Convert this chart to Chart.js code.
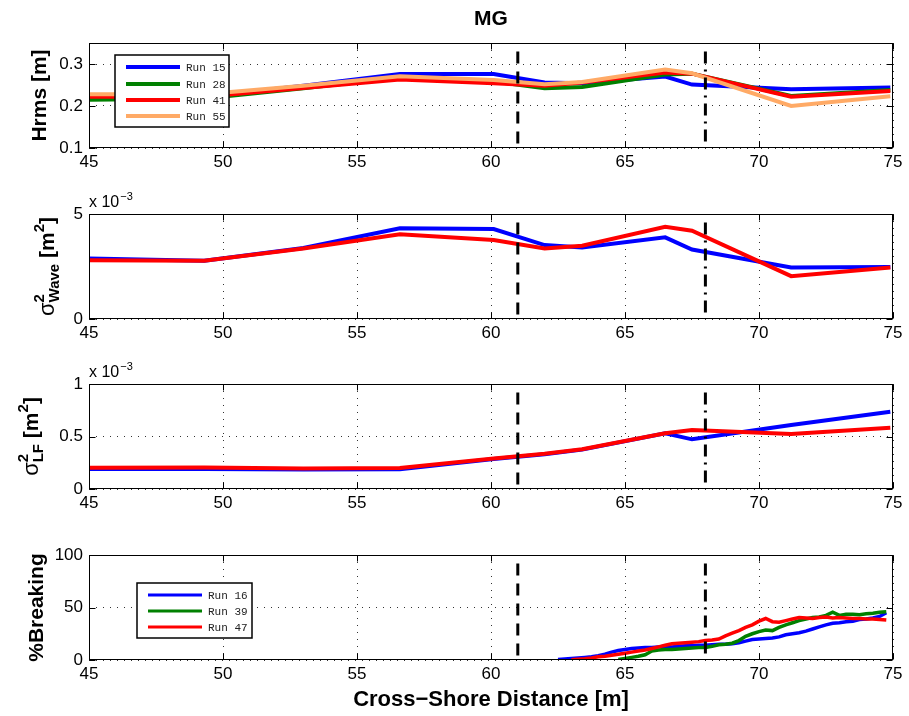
<!DOCTYPE html>
<html>
<head>
<meta charset="utf-8">
<title>MG</title>
<script src="https://cdn.jsdelivr.net/npm/chart.js@4.4.1/dist/chart.umd.min.js"></script>
<style>
  html, body { margin: 0; padding: 0; background: #fff; }
  #fig { position: relative; width: 909px; height: 716px; overflow: hidden; }
  #fig canvas { position: absolute; left: 0; }
</style>
</head>
<body>
<div id="fig">
  <canvas id="pHrms" width="909" height="178" style="top:0px"></canvas>
  <canvas id="pWave" width="909" height="165" style="top:184px"></canvas>
  <canvas id="pLF" width="909" height="165" style="top:354px"></canvas>
  <canvas id="pBrk" width="909" height="191" style="top:525px"></canvas>
</div>
<script>
var FONT = "'Liberation Sans', Arial, Helvetica, sans-serif";
var MONO = "'Liberation Mono', 'Courier New', monospace";

// shared x axis
var xTicks = [45, 50, 55, 60, 65, 70, 75];
var xTickLabels = ['45', '50', '55', '60', '65', '70', '75'];
var markX = [61, 68];           // dashed / dash-dot reference lines

// gauge positions along the flume (m)
var gaugeX = [45, 49.3, 53, 56.6, 60.1, 62, 63.4, 66.5, 67.5, 71.2, 74.9];

// Hrms (m)
var hrmsRun15 = [0.222, 0.222, 0.248, 0.276, 0.276, 0.256, 0.254, 0.270, 0.251, 0.240, 0.244];
var hrmsRun28 = [0.215, 0.218, 0.242, 0.268, 0.258, 0.242, 0.245, 0.275, 0.277, 0.224, 0.238];
var hrmsRun41 = [0.222, 0.222, 0.243, 0.263, 0.254, 0.248, 0.256, 0.280, 0.277, 0.222, 0.236];
var hrmsRun55 = [0.228, 0.228, 0.248, 0.271, 0.262, 0.252, 0.257, 0.287, 0.278, 0.200, 0.223];
var hrmsTicks = [0.1, 0.2, 0.3];
var hrmsTickLabels = ['0.1', '0.2', '0.3'];

// wave band variance (x 1e-3 m^2)
var waveRun15 = [2.88, 2.77, 3.38, 4.32, 4.28, 3.52, 3.41, 3.89, 3.31, 2.45, 2.48];
var waveRun41 = [2.80, 2.77, 3.36, 4.03, 3.76, 3.36, 3.49, 4.39, 4.20, 2.04, 2.45];
var waveTicks = [0, 5];
var waveTickLabels = ['0', '5'];

// low frequency variance (x 1e-3 m^2)
var lfRun15 = [0.190, 0.190, 0.186, 0.188, 0.286, 0.330, 0.375, 0.530, 0.473, 0.610, 0.736];
var lfRun41 = [0.203, 0.205, 0.195, 0.200, 0.290, 0.335, 0.378, 0.530, 0.562, 0.524, 0.584];
var lfTicks = [0, 0.5, 1];
var lfTickLabels = ['0', '0.5', '1'];

// percent of breaking waves
var brkX = [62.5, 62.75, 63, 63.25, 63.5, 63.75, 64, 64.25, 64.5, 64.75,
            65, 65.25, 65.5, 65.75, 66, 66.25, 66.5, 66.75, 67, 67.25,
            67.5, 67.75, 68, 68.25, 68.5, 68.75, 69, 69.25, 69.5, 69.75,
            70, 70.25, 70.5, 70.75, 71, 71.25, 71.5, 71.75, 72, 72.25,
            72.5, 72.75, 73, 73.25, 73.5, 73.75, 74, 74.25, 74.5, 74.75];
var brkRun16 = [0.5, 1, 1.5, 2, 2.5, 3, 4, 5.5, 7.5, 9,
                10, 11, 11.5, 12, 12, 12.5, 13, 12.5, 13, 13.5,
                13.5, 14, 14, 14.5, 15, 15, 15.5, 16.5, 18, 19.5,
                20, 20.5, 21, 22, 24, 25, 26, 27.5, 29.5, 31.5,
                33.5, 35, 35.5, 36.5, 37, 38.5, 39, 40, 41.5, 45];
var brkRun39 = [null, null, null, null, null, null, null, null, null, 0.5,
                1.5, 2.5, 3.5, 5, 8.5, 9.5, 10, 10, 10.5, 11,
                11.5, 12, 12, 13, 14.5, 15, 16, 18.5, 22.5, 25,
                27, 28.5, 28, 31, 33.5, 35.5, 37.5, 39, 40.5, 41,
                42.5, 45.5, 42.5, 43.5, 43.5, 43, 44, 44.5, 45.5, 46];
var brkRun47 = [null, null, 0.3, 0.8, 1.2, 2, 3, 3.5, 4.5, 5.5,
                6.5, 7.5, 8.5, 9.5, 11, 12.5, 14, 15.5, 16, 16.5,
                17, 17.5, 18.5, 19, 20, 23, 25.5, 28, 31, 33.5,
                37, 39.5, 36.5, 36, 37.5, 39, 40.5, 40, 39.5, 40.5,
                41, 40, 40.5, 40, 39.5, 39.5, 39, 39, 38.5, 38];
var brkTicks = [0, 50, 100];
var brkTickLabels = ['0', '50', '100'];

var BLUE = '#0000ff', GREEN = '#008000', RED = '#ff0000', ORANGE = '#ffaa66';

function pts(xs, ys) {
  var out = [];
  for (var i = 0; i < xs.length; i++) {
    if (ys[i] !== null) out.push({ x: xs[i], y: ys[i] });
  }
  return out;
}

function runLine(label, xs, ys, color, w, order) {
  return { label: label, data: pts(xs, ys), borderColor: color, backgroundColor: color,
           borderWidth: w, pointRadius: 0, tension: 0, fill: false, order: order };
}

// vertical reference lines drawn from top down to the axis
function markers(lo, hi) {
  return [
    { data: [{ x: markX[0], y: hi }, { x: markX[0], y: lo }], borderColor: '#000', borderWidth: 3,
      borderDash: [12, 8], pointRadius: 0, order: 0 },
    { data: [{ x: markX[1], y: hi }, { x: markX[1], y: lo }], borderColor: '#000', borderWidth: 3,
      borderDash: [12, 6, 2, 6], pointRadius: 0, order: 0 }
  ];
}

function xScale(h, title) {
  var s = {
    type: 'linear', min: 45, max: 75,
    afterBuildTicks: function (sc) { sc.ticks = xTicks.map(function (v) { return { value: v }; }); },
    afterFit: function (sc) { sc.height = h; },
    ticks: { font: { size: 17, family: FONT }, color: '#000', padding: 4, maxRotation: 0, autoSkip: false,
             callback: function (v, i) { return xTickLabels[i]; } },
    grid: { color: '#333', lineWidth: 1, drawTicks: false, borderDash: [1, 6] },
    border: { display: false, dash: [1, 6] }
  };
  if (title) {
    s.title = { display: true, text: title, color: '#000', font: { size: 22, weight: 'bold', family: FONT },
                padding: { top: 0, bottom: 3 } };
  }
  return s;
}

function yScale(min, max, ticks, labels) {
  return {
    type: 'linear', min: min, max: max,
    afterBuildTicks: function (sc) { sc.ticks = ticks.map(function (v) { return { value: v }; }); },
    afterFit: function (sc) { sc.width = 89; },
    ticks: { font: { size: 17, family: FONT }, color: '#000', padding: 6,
             callback: function (v, i) { return labels[i]; } },
    grid: { color: '#333', lineWidth: 1, drawTicks: false, borderDash: [1, 6] },
    border: { display: false, dash: [1, 6] }
  };
}

// per-panel decorations (box, labels, legends)
var decor = {
  pHrms: { title: 'MG', ylabel: [{ t: 'Hrms [m]' }], labelX: 46,
           legend: { left: 26, top: 12, width: 114, height: 72, first: 12.3, step: 16.2, lw: 4 } },
  pWave: { ylabel: [{ t: '\u03c3', size: 22, weight: 'normal' }, { t: '2', size: 15, dy: 10, hold: true },
                    { t: 'Wave', size: 15, dy: -5 }, { t: ' [m' }, { t: '2', size: 15, dy: 10 }, { t: ']' }],
           labelX: 54, exponent: '\u22123' },
  pLF: { ylabel: [{ t: '\u03c3', size: 22, weight: 'normal' }, { t: '2', size: 15, dy: 10, hold: true },
                  { t: 'LF', size: 15, dy: -5 }, { t: ' [m' }, { t: '2', size: 15, dy: 10 }, { t: ']' }],
         labelX: 38, exponent: '\u22123' },
  pBrk: { ylabel: [{ t: '%Breaking' }], labelX: 43,
          legend: { left: 48, top: 28, width: 115, height: 55, first: 12, step: 16, lw: 3 } }
};

function seg(ctx, x1, y1, x2, y2) {
  ctx.beginPath(); ctx.moveTo(x1, y1); ctx.lineTo(x2, y2); ctx.stroke();
}

function drawYLabel(ctx, parts, x, cy) {
  var segs = parts.map(function (p) {
    var font = (p.weight || 'bold') + ' ' + (p.size || 21) + 'px ' + FONT;
    ctx.font = font;
    return { t: p.t, font: font, w: ctx.measureText(p.t).width, dy: p.dy || 0, hold: !!p.hold };
  });
  var total = 0, held = 0;
  segs.forEach(function (s) {
    if (s.hold) { held = s.w; } else { total += Math.max(s.w, held); held = 0; }
  });
  ctx.save();
  ctx.translate(x, cy);
  ctx.rotate(-Math.PI / 2);
  ctx.fillStyle = '#000';
  ctx.textAlign = 'left';
  ctx.textBaseline = 'alphabetic';
  var cur = -total / 2;
  held = 0;
  segs.forEach(function (s) {
    ctx.font = s.font;
    ctx.fillText(s.t, cur, -s.dy);
    if (s.hold) { held = s.w; } else { cur += Math.max(s.w, held); held = 0; }
  });
  ctx.restore();
}

var matlabAxes = {
  id: 'matlabAxes',
  afterDraw: function (chart) {
    var d = decor[chart.canvas.id];
    var ctx = chart.ctx, a = chart.chartArea;
    var xs = chart.scales.x, ys = chart.scales.y;
    ctx.save();
    ctx.setLineDash([]);

    if (d.legend) {
      var lg = d.legend;
      var bx = a.left + lg.left, by = a.top + lg.top;
      ctx.fillStyle = '#fff';
      ctx.fillRect(bx, by, lg.width, lg.height);
      ctx.strokeStyle = '#000';
      ctx.lineWidth = 1.5;
      ctx.strokeRect(bx, by, lg.width, lg.height);
      var runs = chart.data.datasets.filter(function (ds) { return ds.label; });
      runs.forEach(function (ds, i) {
        var yy = Math.round(by + lg.first + i * lg.step);
        ctx.strokeStyle = ds.borderColor;
        ctx.lineWidth = lg.lw;
        seg(ctx, bx + 11, yy, bx + 65, yy);
        ctx.fillStyle = '#222';
        ctx.font = '11px ' + MONO;
        ctx.textAlign = 'left';
        ctx.textBaseline = 'middle';
        ctx.fillText(ds.label, bx + 71, yy + 1);
      });
    }

    // axes box with inward ticks
    ctx.strokeStyle = '#000';
    ctx.lineWidth = 1;
    var L = Math.round(a.left) + 0.5, R = Math.round(a.right) - 0.5;
    var T = Math.round(a.top) + 0.5, B = Math.round(a.bottom) - 0.5;
    ctx.strokeRect(L, T, R - L, B - T);
    xs.ticks.forEach(function (t) {
      var p = Math.round(xs.getPixelForValue(t.value)) + 0.5;
      seg(ctx, p, B, p, B - 6);
      seg(ctx, p, T, p, T + 6);
    });
    ys.ticks.forEach(function (t) {
      var p = Math.round(ys.getPixelForValue(t.value)) + 0.5;
      seg(ctx, L, p, L + 6, p);
      seg(ctx, R, p, R - 6, p);
    });

    drawYLabel(ctx, d.ylabel, d.labelX, (a.top + a.bottom) / 2);

    ctx.fillStyle = '#000';
    ctx.textAlign = 'left';
    ctx.textBaseline = 'alphabetic';
    if (d.exponent) {
      ctx.font = '16px ' + FONT;
      ctx.fillText('x 10', a.left, a.top - 7);
      var w = ctx.measureText('x 10').width;
      ctx.font = '11px ' + FONT;
      ctx.fillText(d.exponent, a.left + w + 1, a.top - 14);
    }
    if (d.title) {
      ctx.font = 'bold 21px ' + FONT;
      ctx.textAlign = 'center';
      ctx.textBaseline = 'middle';
      ctx.fillText(d.title, (a.left + a.right) / 2, 19);
    }
    ctx.restore();
  }
};

function baseOptions(padTop, xs, ys) {
  return {
    responsive: false,
    animation: false,
    devicePixelRatio: 1,
    layout: { padding: { top: padTop, left: 0, right: 16, bottom: 0 } },
    plugins: { legend: { display: false }, tooltip: { enabled: false } },
    scales: { x: xs, y: ys }
  };
}

new Chart(document.getElementById('pHrms'), {
  type: 'line',
  data: {
    datasets: [
      runLine('Run 15', gaugeX, hrmsRun15, BLUE, 4, 4),
      runLine('Run 28', gaugeX, hrmsRun28, GREEN, 4, 3),
      runLine('Run 41', gaugeX, hrmsRun41, RED, 4, 2),
      runLine('Run 55', gaugeX, hrmsRun55, ORANGE, 4, 1)
    ].concat(markers(0.1, 0.33))
  },
  options: baseOptions(43, xScale(30), yScale(0.1, 0.35, hrmsTicks, hrmsTickLabels)),
  plugins: [matlabAxes]
});

new Chart(document.getElementById('pWave'), {
  type: 'line',
  data: {
    datasets: [
      runLine('', gaugeX, waveRun15, BLUE, 4, 2),
      runLine('', gaugeX, waveRun41, RED, 4, 1)
    ].concat(markers(0, 4.6))
  },
  options: baseOptions(30, xScale(30), yScale(0, 5, waveTicks, waveTickLabels)),
  plugins: [matlabAxes]
});

new Chart(document.getElementById('pLF'), {
  type: 'line',
  data: {
    datasets: [
      runLine('', gaugeX, lfRun15, BLUE, 4, 2),
      runLine('', gaugeX, lfRun41, RED, 4, 1)
    ].concat(markers(0, 0.92))
  },
  options: baseOptions(30, xScale(30), yScale(0, 1, lfTicks, lfTickLabels)),
  plugins: [matlabAxes]
});

new Chart(document.getElementById('pBrk'), {
  type: 'line',
  data: {
    datasets: [
      runLine('Run 16', brkX, brkRun16, BLUE, 3.5, 3),
      runLine('Run 39', brkX, brkRun39, GREEN, 3.5, 2),
      runLine('Run 47', brkX, brkRun47, RED, 3.5, 1)
    ].concat(markers(0, 92))
  },
  options: baseOptions(30, xScale(56, 'Cross\u2212Shore Distance [m]'), yScale(0, 100, brkTicks, brkTickLabels)),
  plugins: [matlabAxes]
});
</script>
</body>
</html>
